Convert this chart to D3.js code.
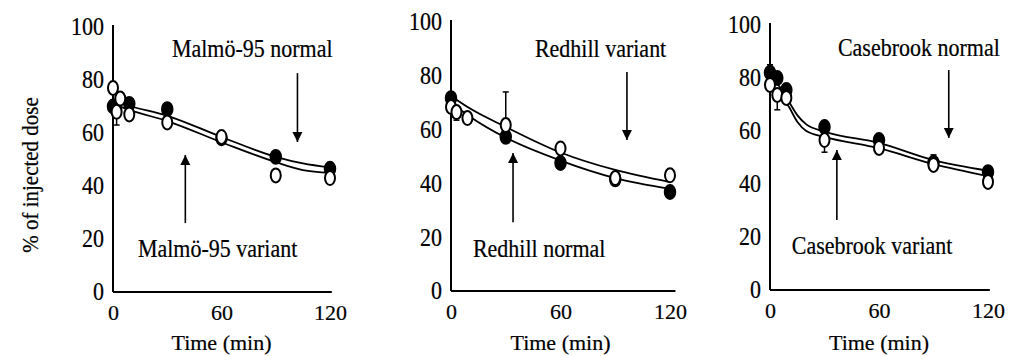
<!DOCTYPE html>
<html>
<head>
<meta charset="utf-8">
<script src="https://cdn.jsdelivr.net/npm/d3@7"></script>
<style>
  html, body { margin: 0; padding: 0; background: #fff; }
  svg text {
    font-family: "Liberation Serif", "DejaVu Serif", serif;
    fill: #000; stroke: #000; stroke-width: 0.2px;
  }
</style>
</head>
<body>
<svg id="chart" width="1017" height="356"></svg>
<script>
// Axis ticks
const xTicks = [0, 60, 120];
const yTicks = [0, 20, 40, 60, 80, 100];

// Malmö-95
const malmoNormalT = [0, 9, 30, 60, 90, 120];
const malmoNormalV = [70, 71, 69, 58, 51, 46.5];
const malmoVariantT = [0, 2, 4, 9, 30, 60, 90, 120];
const malmoVariantV = [77, 68, 73, 67, 64, 58.5, 44, 43];
const malmoVariantErr = [[2, 68, 63]];
const malmoFitT = [0, 10, 30, 60, 90, 105, 120];
const malmoFitNormal = [72, 70, 66.5, 58.5, 51, 48.5, 47];
const malmoFitVariant = [71, 68.5, 64.5, 56.5, 49, 46, 45];

// Redhill
const redhillNormalT = [0, 30, 60, 90, 120];
const redhillNormalV = [71.7, 57.3, 47.6, 41.5, 36.8];
const redhillVariantT = [0, 3, 9, 30, 60, 90, 120];
const redhillVariantV = [68.4, 66.5, 64.3, 61.7, 53, 42, 43];
const redhillVariantErr = [[3, 66.5, 63.5], [30, 61.7, 74]];
const redhillFitT = [0, 10, 30, 60, 90, 120];
const redhillFitNormal = [70, 65, 57, 48.5, 42, 38];
const redhillFitVariant = [72.5, 68, 61, 51.5, 45, 40.5];

// Casebrook
const casebrookNormalT = [0, 4, 9, 30, 60, 90, 120];
const casebrookNormalV = [82, 80, 75.5, 61.5, 56.6, 48, 44.5];
const casebrookNormalErr = [[0, 82, 85]];
const casebrookVariantT = [0, 4, 9, 30, 60, 90, 120];
const casebrookVariantV = [77.4, 73.6, 72.5, 56.6, 53.6, 47.2, 40.8];
const casebrookVariantErr = [[4, 73.6, 68], [30, 56.6, 52], [90, 47.2, 51]];
const casebrookFitT = [0, 5, 10, 15, 20, 30, 60, 90, 120];
const casebrookFitNormal = [80, 77, 71.5, 66, 62.5, 59.8, 55.5, 49, 45];
const casebrookFitVariant = [76, 73, 69.5, 63.5, 60, 57.8, 53.5, 47.5, 43];

const zip = (t, v) => t.map((d, i) => ({ t: d, v: v[i] }));

// Glyphs in this figure are slightly taller than they are wide
const STRETCH = 1.12;

// Panel layout: pixel frame plus annotation placement in data units
const panels = [
  {
    x0: 113, x1: 330, yZero: 292, yTop: 27, xEnd: 121,
    normal: zip(malmoNormalT, malmoNormalV), normalErr: [],
    variant: zip(malmoVariantT, malmoVariantV), variantErr: malmoVariantErr,
    fitUpper: zip(malmoFitT, malmoFitNormal), fitLower: zip(malmoFitT, malmoFitVariant),
    topLabel: "Malmö-95 normal", topAt: [32.6, 92],
    bottomLabel: "Malmö-95 variant", bottomAt: [13.8, 16.6],
    downArrow: [102, 82.6, 56.6], upArrow: [40, 26, 51.7]
  },
  {
    x0: 451, x1: 670, yZero: 291, yTop: 22, xEnd: 123,
    normal: zip(redhillNormalT, redhillNormalV), normalErr: [],
    variant: zip(redhillVariantT, redhillVariantV), variantErr: redhillVariantErr,
    fitUpper: zip(redhillFitT, redhillFitVariant), fitLower: zip(redhillFitT, redhillFitNormal),
    topLabel: "Redhill variant", topAt: [46, 90.3],
    bottomLabel: "Redhill normal", bottomAt: [12, 16],
    downArrow: [96.4, 81.4, 56.1], upArrow: [34, 25.6, 51.3]
  },
  {
    x0: 770, x1: 988, yZero: 290, yTop: 25, xEnd: 121,
    normal: zip(casebrookNormalT, casebrookNormalV), normalErr: casebrookNormalErr,
    variant: zip(casebrookVariantT, casebrookVariantV), variantErr: casebrookVariantErr,
    fitUpper: zip(casebrookFitT, casebrookFitNormal), fitLower: zip(casebrookFitT, casebrookFitVariant),
    topLabel: "Casebrook normal", topAt: [37.4, 91.7],
    bottomLabel: "Casebrook variant", bottomAt: [12, 17],
    downArrow: [98.4, 83, 57.4], upArrow: [36.8, 26.4, 52.8]
  }
];

const svg = d3.select("#chart");

// text placed at (x, y), optionally stretched vertically about its anchor
function label(parent, px, py, str, size, anchor, extra = "", stretch = STRETCH) {
  return parent.append("text")
    .attr("transform", `translate(${px},${py}) ${extra} scale(1,${stretch})`)
    .attr("text-anchor", anchor || "start")
    .attr("dy", "0.35em")
    .style("font-size", size + "px")
    .text(str);
}

const defs = svg.append("defs");
defs.append("marker")
  .attr("id", "head")
  .attr("viewBox", "0 0 10 10")
  .attr("refX", 10).attr("refY", 5)
  .attr("markerWidth", 10).attr("markerHeight", 13)
  .attr("markerUnits", "userSpaceOnUse")
  .attr("orient", "auto")
  .append("path").attr("d", "M0,0 L10,5 L0,10 Z").attr("fill", "#000");

panels.forEach(p => {
  const x = d3.scaleLinear().domain([0, 120]).range([p.x0, p.x1]);
  const y = d3.scaleLinear().domain([0, 100]).range([p.yZero, p.yTop]);
  const g = svg.append("g");

  // axes
  const xAxis = d3.axisBottom(x).tickValues(xTicks).tickSize(0).tickPadding(12);
  const yAxis = d3.axisLeft(y).tickValues(yTicks).tickSize(0).tickPadding(9);

  const gx = g.append("g").attr("transform", `translate(0,${p.yZero})`).call(xAxis);
  const gy = g.append("g").attr("transform", `translate(${p.x0},0)`).call(yAxis);
  [gx, gy].forEach(a => {
    a.select(".domain").remove();
    a.selectAll("text").style("font-size", "22px");
  });
  gy.selectAll("text").attr("transform", `scale(1,${STRETCH})`);
  g.append("line")
    .attr("x1", p.x0).attr("x2", x(p.xEnd))
    .attr("y1", p.yZero).attr("y2", p.yZero)
    .attr("stroke", "#000").attr("stroke-width", 2);
  g.append("line")
    .attr("x1", p.x0).attr("x2", p.x0)
    .attr("y1", p.yZero).attr("y2", y(100) - 2)
    .attr("stroke", "#000").attr("stroke-width", 2);

  label(g, (p.x0 + p.x1) / 2, 342, "Time (min)", 22, "middle", "", 1);

  // fitted curves
  const line = d3.line().x(d => x(d.t)).y(d => y(d.v)).curve(d3.curveMonotoneX);
  [p.fitUpper, p.fitLower].forEach(c => {
    g.append("path").attr("d", line(c))
      .attr("fill", "none").attr("stroke", "#000").attr("stroke-width", 1.8);
  });

  // error bars
  const drawErr = errs => {
    errs.forEach(([t, v, end]) => {
      g.append("line").attr("x1", x(t)).attr("x2", x(t))
        .attr("y1", y(v)).attr("y2", y(end))
        .attr("stroke", "#000").attr("stroke-width", 1.5);
      g.append("line").attr("x1", x(t) - 3).attr("x2", x(t) + 3)
        .attr("y1", y(end)).attr("y2", y(end))
        .attr("stroke", "#000").attr("stroke-width", 1.5);
    });
  };
  drawErr(p.normalErr);
  drawErr(p.variantErr);

  // normal: filled markers
  g.selectAll(".nrm").data(p.normal).join("ellipse")
    .attr("cx", d => x(d.t)).attr("cy", d => y(d.v))
    .attr("rx", 5.5).attr("ry", 7.2)
    .attr("fill", "#000").attr("stroke", "#000").attr("stroke-width", 1.5);

  // variant: open markers
  g.selectAll(".var").data(p.variant).join("ellipse")
    .attr("cx", d => x(d.t)).attr("cy", d => y(d.v))
    .attr("rx", 5).attr("ry", 7)
    .attr("fill", "#fff").attr("stroke", "#000").attr("stroke-width", 2);

  // annotations
  label(g, x(p.topAt[0]), y(p.topAt[1]), p.topLabel, 22);
  label(g, x(p.bottomAt[0]), y(p.bottomAt[1]), p.bottomLabel, 22);

  [p.downArrow, p.upArrow].forEach(([t, from, to]) => {
    g.append("line")
      .attr("x1", x(t)).attr("x2", x(t))
      .attr("y1", y(from)).attr("y2", y(to))
      .attr("stroke", "#000").attr("stroke-width", 1.6)
      .attr("marker-end", "url(#head)");
  });
});

label(svg, 30, 175, "% of injected dose", 21, "middle", "rotate(-90)");
</script>
</body>
</html>
